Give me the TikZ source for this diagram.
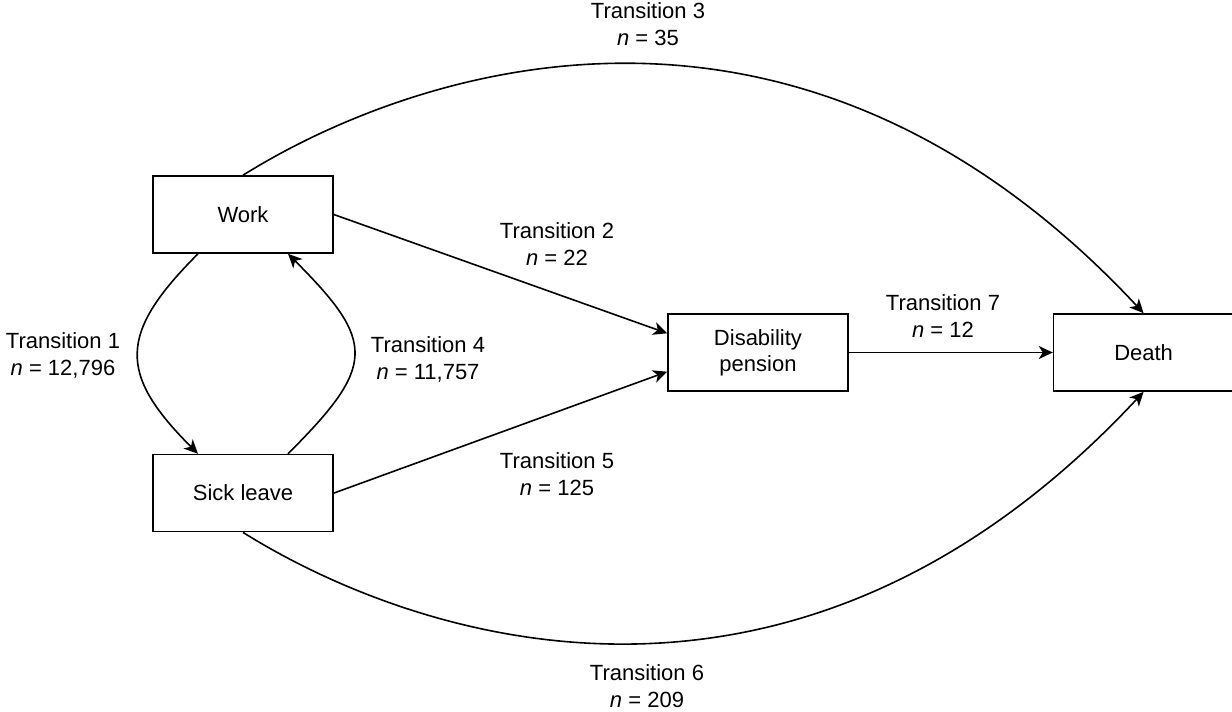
\documentclass[tikz,border=0pt]{standalone}
\usepackage{fontspec}
\setmainfont{Liberation Sans}
\usepackage{tikz}
\usetikzlibrary{arrows.meta,positioning}
\tikzstyle{state} = [rectangle, minimum width=90pt, minimum height=38.5pt, inner sep=0pt, text centered, draw=black, line width=0.8pt, align=center, font=\fontsize{11}{13}\selectfont]
\tikzstyle{arrow} = [line width=0.8pt,->,>={Stealth[length=7pt,width=6.5pt,inset=2pt]}]
\tikzstyle{translabel} = [align=center, inner sep=0pt, font=\fontsize{11}{13.5}\selectfont]

\begin{document}
\begin{tikzpicture}[x=0.5pt, y=-0.5pt]
\useasboundingbox (0,0) rectangle (1232,712);

% States
\node[state] (work) at (243,214.5) {Work};
\node[state, below=100pt of work] (sick) {Sick leave};
\node[state] (disab) at (758,352.5) {Disability\\pension};
\node[state, right=102pt of disab] (death) {Death};

% Transition labels
\node[translabel] (lab1) at (63,355) {Transition 1\\\textit{n} = 12,796};
\node[translabel] (lab2) at (557,244) {Transition 2\\\textit{n} = 22};
\node[translabel] (lab3) at (648,24) {Transition 3\\\textit{n} = 35};
\node[translabel] (lab4) at (428,359) {Transition 4\\\textit{n} = 11,757};
\node[translabel] (lab5) at (557,474) {Transition 5\\\textit{n} = 125};
\node[translabel] (lab6) at (647,686) {Transition 6\\\textit{n} = 209};
\node[translabel] (lab7) at (943,316) {Transition 7\\\textit{n} = 12};

% Work <-> sick leave
\draw[arrow] ([xshift=-22.5pt]work.south) to[out=-135,in=135,looseness=1.45] ([xshift=-22.5pt]sick.north);
\draw[arrow] ([xshift=22.5pt]sick.north) to[out=45,in=-45,looseness=1.6] ([xshift=22.5pt]work.south);

% To disability pension
\draw[arrow] (work.east) -- ([yshift=9.6pt]disab.west);
\draw[arrow] (sick.east) -- ([yshift=-9.6pt]disab.west);
\draw[arrow] (disab.east) -- (death.west);

% To death
\draw[arrow] (work.north) .. controls +(32:95pt) and +(133:259.5pt) .. (death.north);
\draw[arrow] (sick.south) .. controls +(-32:99pt) and +(-133:258.5pt) .. (death.south);
\end{tikzpicture}
\end{document}
